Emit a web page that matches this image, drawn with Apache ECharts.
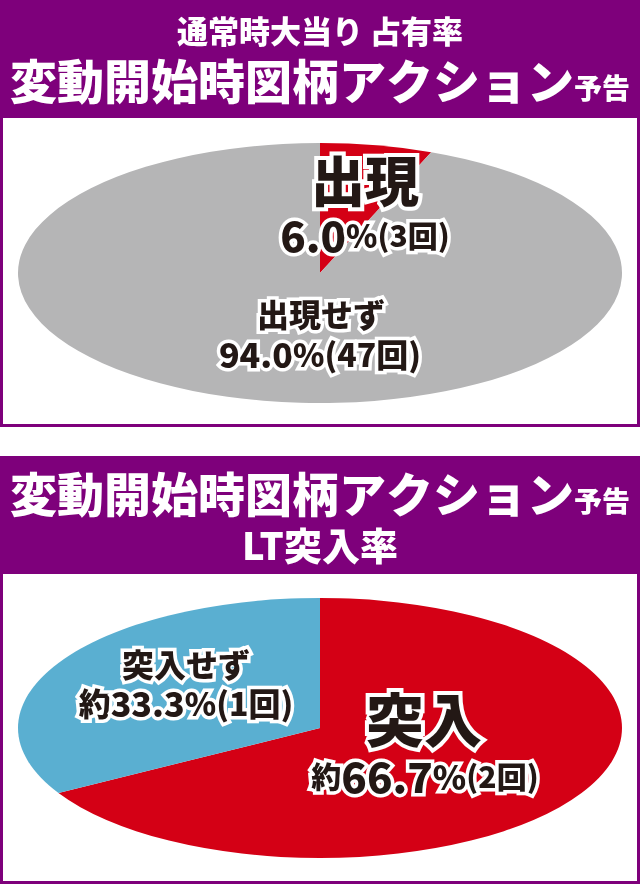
<!DOCTYPE html>
<html>
<head>
<meta charset="utf-8">
<script src="https://cdn.jsdelivr.net/npm/echarts@6/dist/echarts.min.js"></script>
<style>
html, body { margin: 0; padding: 0; background: #fff; }
#wrap { position: relative; width: 640px; height: 884px; overflow: hidden; }
.pie { position: absolute; left: 0; width: 640px; height: 640px; transform-origin: 50% 50%; }
#overlay { position: absolute; left: 0; top: 0; width: 640px; height: 884px; }
</style>
</head>
<body>
<div id="wrap">
  <div id="pie1" class="pie"></div>
  <div id="pie2" class="pie"></div>
  <div id="overlay"></div>
</div>
<script>
// データ
var topNames = ['出現', '出現せず'];
var topCounts = [3, 47];
var topColors = ['#d40015', '#b5b5b6'];

var bottomNames = ['突入', '突入せず'];
var bottomCounts = [2, 1];
var bottomColors = ['#d40015', '#5aafd1'];

var purple = '#7e007b';
var ink = '#231815';
var font = '"Noto Sans CJK JP", "Noto Sans", sans-serif';
var weight = 900;

function pct(counts, i) {
    var total = counts.reduce(function (a, b) { return a + b; }, 0);
    return (counts[i] / total * 100).toFixed(1);
}

// 楕円の円グラフ（円を縦に潰して描く）
function makePie(id, names, counts, colors, cy, ry) {
    var rx = 302;
    var dom = document.getElementById(id);
    dom.style.top = (cy - 320) + 'px';
    dom.style.transform = 'scaleY(' + (ry / rx) + ')';
    var chart = echarts.init(dom, null, { renderer: 'svg' });
    chart.setOption({
        animation: false,
        series: [{
            type: 'pie',
            radius: rx,
            center: ['50%', '50%'],
            startAngle: 90,
            clockwise: true,
            silent: true,
            label: { show: false },
            labelLine: { show: false },
            itemStyle: { borderWidth: 0 },
            data: names.map(function (n, i) {
                return { name: n, value: counts[i], itemStyle: { color: colors[i] } };
            })
        }]
    });
}

makePie('pie1', topNames, topCounts, topColors, 273, 130);
makePie('pie2', bottomNames, bottomCounts, bottomColors, 728, 130);

function st(size, lw) {
    return { fontFamily: font, fontWeight: weight, fontSize: size, fill: ink, stroke: '#fff', lineWidth: lw || 7 };
}

// ラベル用の文字
function lbl(x, y, text, rich) {
    return {
        type: 'text',
        x: x, y: y,
        style: {
            text: text,
            align: 'center',
            verticalAlign: 'middle',
            fontFamily: font,
            fontWeight: weight,
            fill: ink,
            stroke: '#fff',
            lineWidth: 7,
            rich: rich
        },
        z: 10
    };
}

function head(x, y, text, size, rich) {
    return {
        type: 'text',
        x: x, y: y,
        style: {
            text: text,
            align: 'center',
            verticalAlign: 'middle',
            fontFamily: font,
            fontWeight: weight,
            fontSize: size,
            fill: '#fff',
            rich: rich
        },
        z: 10
    };
}

function richSet(big, mid, small) {
    return { n: st(big), p: st(mid), c: st(small) };
}

var titleRich = {
    t: { fontFamily: font, fontWeight: weight, fontSize: 47, fill: '#fff' },
    s: { fontFamily: font, fontWeight: weight, fontSize: 28, fill: '#fff', padding: [14, 0, 0, 0] }
};

var overlay = echarts.init(document.getElementById('overlay'));
overlay.setOption({
    animation: false,
    graphic: [
        // 上段
        { type: 'rect', shape: { x: 0, y: 0, width: 640, height: 118 }, style: { fill: purple } },
        { type: 'rect', shape: { x: 1.5, y: 116.5, width: 637, height: 309 }, style: { fill: 'none', stroke: purple, lineWidth: 3 } },
        head(320, 31, '通常時大当り 占有率', 31),
        head(320, 81, '{t|変動開始時図柄アクション}{s|予告}', 47, titleRich),
        lbl(365, 181, '{n|' + topNames[0] + '}', { n: st(54, 8) }),
        lbl(365, 236, '{n|' + pct(topCounts, 0) + '}{p|%}{c|(' + topCounts[0] + '回)}', richSet(42, 32, 30)),
        lbl(321, 315, '{n|' + topNames[1] + '}', { n: st(32) }),
        lbl(320, 355, '{n|' + pct(topCounts, 1) + '}{p|%}{c|(' + topCounts[1] + '回)}', richSet(34, 32, 32)),

        // 下段
        { type: 'rect', shape: { x: 0, y: 456, width: 640, height: 118 }, style: { fill: purple } },
        { type: 'rect', shape: { x: 1.5, y: 572.5, width: 637, height: 310 }, style: { fill: 'none', stroke: purple, lineWidth: 3 } },
        head(320, 494, '{t|変動開始時図柄アクション}{s|予告}', 47, titleRich),
        head(320, 546, 'LT突入率', 38),
        lbl(186, 665, '{n|' + bottomNames[1] + '}', { n: st(32) }),
        lbl(186, 704, '{c|約}{n|' + pct(bottomCounts, 1) + '}{p|%}{c|(' + bottomCounts[1] + '回)}', richSet(34, 32, 32)),
        lbl(424, 720, '{n|' + bottomNames[0] + '}', { n: st(58, 8) }),
        lbl(425, 777, '{c|約}{n|' + pct(bottomCounts, 0) + '}{p|%}{c|(' + bottomCounts[0] + '回)}', richSet(42, 34, 30))
    ]
});
</script>
</body>
</html>
